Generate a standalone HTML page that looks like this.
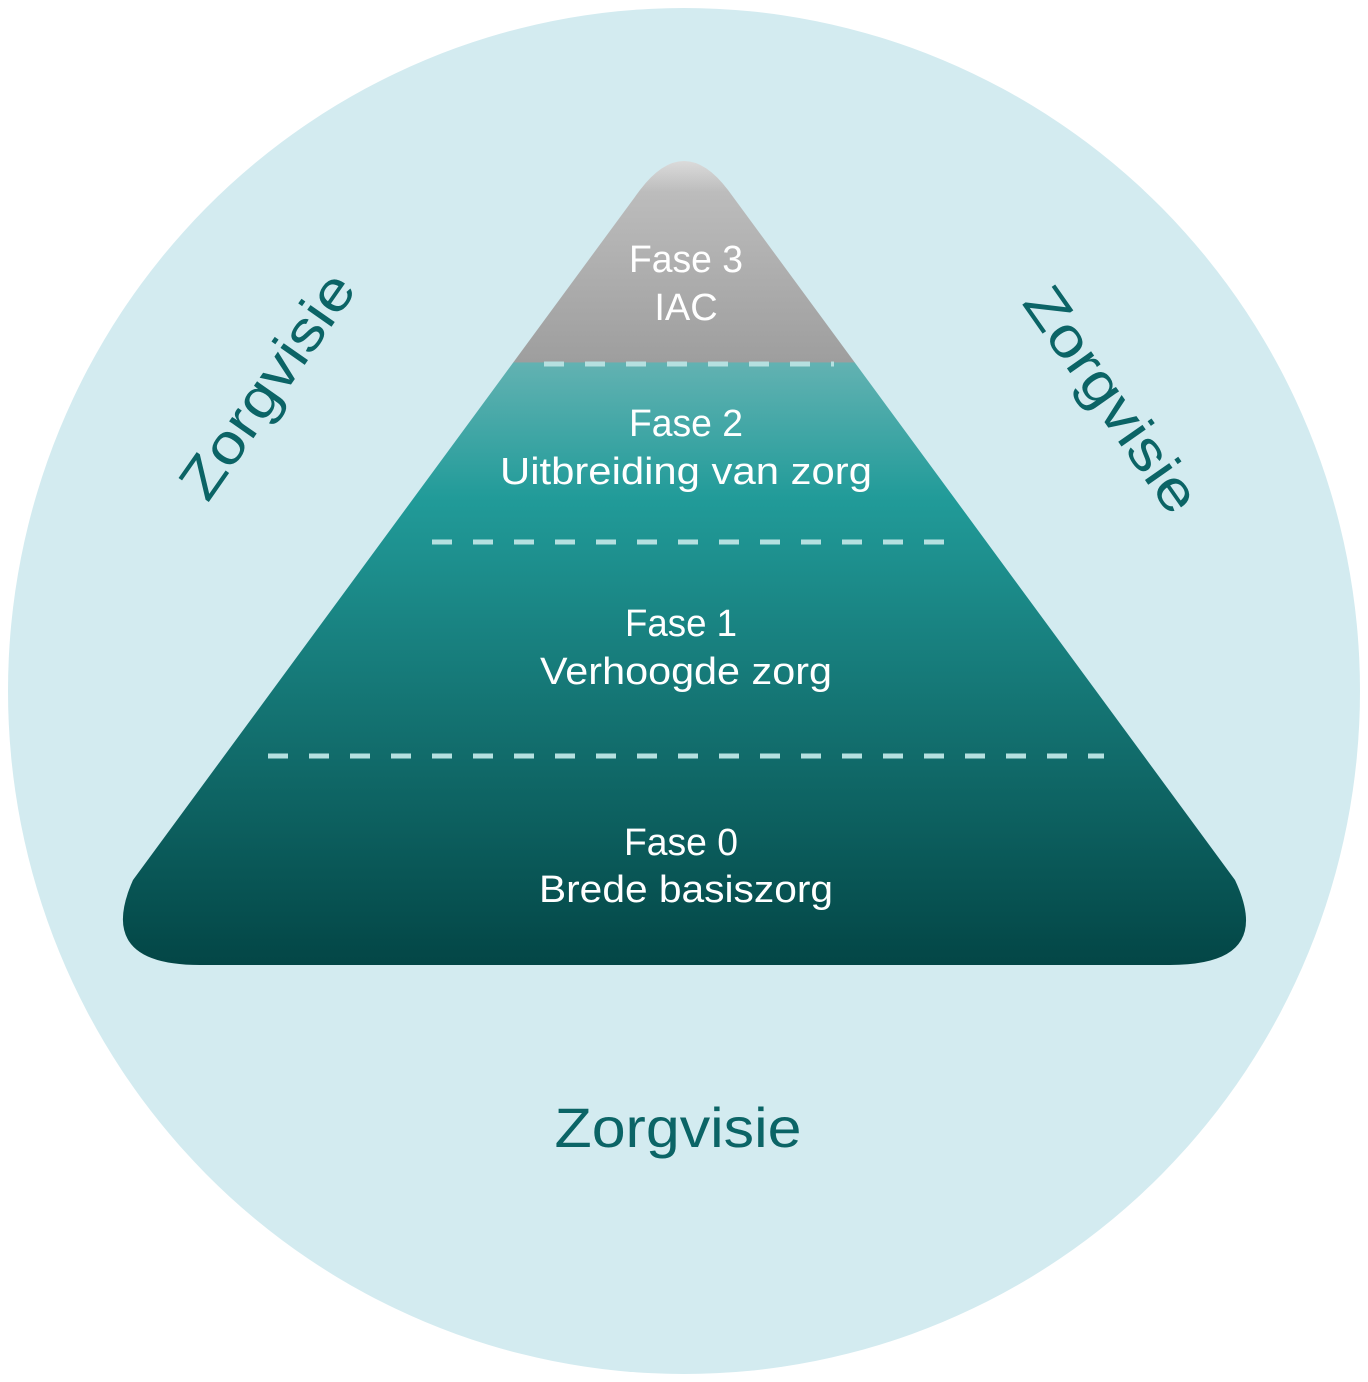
<!DOCTYPE html>
<html><head><meta charset="utf-8"><style>
html,body{margin:0;padding:0;background:#fff;}
svg{display:block;}
text{font-family:"Liberation Sans",sans-serif;}
</style></head><body>
<svg width="1368" height="1382" viewBox="0 0 1368 1382" xmlns="http://www.w3.org/2000/svg">
<defs>
<linearGradient id="g" x1="0" y1="160" x2="0" y2="965" gradientUnits="userSpaceOnUse">
<stop offset="0" stop-color="#dcdcdc"/>
<stop offset="0.04" stop-color="#bcbcbc"/>
<stop offset="0.251" stop-color="#9e9e9e"/>
<stop offset="0.252" stop-color="#62b2b2"/>
<stop offset="0.42" stop-color="#219b99"/>
<stop offset="0.7" stop-color="#137170"/>
<stop offset="1" stop-color="#034646"/>
</linearGradient>
</defs>
<ellipse cx="684" cy="691" rx="676" ry="683" fill="#d3ebf0"/>
<path d="M640,190 Q684,132 728,190 L1235,880 Q1275,965 1170,965 L200,965 Q95,965 133,880 Z" fill="url(#g)"/>
<g stroke="#b5e0e0" stroke-width="5" stroke-dasharray="20 21">
<line x1="544" y1="364" x2="834" y2="364"/>
<line x1="432" y1="542" x2="950" y2="542"/>
<line x1="268" y1="756" x2="1104" y2="756"/>
</g>
<g fill="#fff" font-size="38" text-anchor="middle">
<text x="686" y="272" textLength="114" lengthAdjust="spacingAndGlyphs">Fase 3</text>
<text x="686" y="320">IAC</text>
<text x="686" y="436" textLength="114" lengthAdjust="spacingAndGlyphs">Fase 2</text>
<text x="686" y="484" textLength="372" lengthAdjust="spacingAndGlyphs">Uitbreiding van zorg</text>
<text x="681" y="636" textLength="112" lengthAdjust="spacingAndGlyphs">Fase 1</text>
<text x="686" y="684" textLength="292" lengthAdjust="spacingAndGlyphs">Verhoogde zorg</text>
<text x="681" y="855" textLength="114" lengthAdjust="spacingAndGlyphs">Fase 0</text>
<text x="686" y="902" textLength="294" lengthAdjust="spacingAndGlyphs">Brede basiszorg</text>
</g>
<g fill="#0b6466" font-size="56" text-anchor="middle">
<text x="678" y="1147" textLength="247" lengthAdjust="spacingAndGlyphs">Zorgvisie</text>
<text transform="translate(268,386) rotate(-55)" x="0" y="18" textLength="262" lengthAdjust="spacingAndGlyphs">Zorgvisie</text>
<text transform="translate(1111,400) rotate(55)" x="0" y="18" textLength="262" lengthAdjust="spacingAndGlyphs">Zorgvisie</text>
</g>
</svg>
</body></html>
